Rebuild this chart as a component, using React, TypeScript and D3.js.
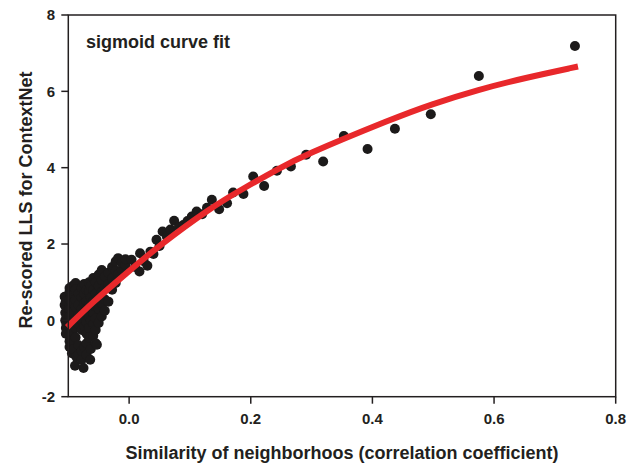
import React from "react";
import * as d3 from "d3";

// Similarity of neighborhoods (correlation coefficient) vs. re-scored LLS
const similarity: number[] = [
  // left edge of the cluster
  -0.106, -0.106, -0.105, -0.105, -0.104, -0.104, -0.104, -0.103, -0.103,
  -0.098, -0.098, -0.098, -0.098, -0.098, -0.098, -0.098, -0.098, -0.098,
  -0.093, -0.093, -0.093, -0.093, -0.093, -0.093, -0.093, -0.094, -0.092,
  -0.088, -0.088, -0.088, -0.088, -0.088, -0.088, -0.088, -0.089, -0.087,
  -0.083, -0.083, -0.083, -0.083, -0.083, -0.083,
  -0.078, -0.078, -0.078, -0.078, -0.078, -0.078, -0.078,
  -0.074, -0.074, -0.074, -0.074, -0.074, -0.075, -0.074,
  -0.070, -0.070, -0.070, -0.070, -0.070, -0.070, -0.070,
  -0.066, -0.066, -0.066, -0.066, -0.066, -0.066,
  -0.063, -0.063, -0.063, -0.063, -0.064, -0.063,
  -0.059, -0.059, -0.059, -0.059, -0.059, -0.059,
  -0.055, -0.055, -0.055, -0.055, -0.055, -0.055,
  -0.050, -0.050, -0.050, -0.050, -0.050, -0.053,
  -0.045, -0.045, -0.045, -0.045, -0.045,
  -0.040, -0.040, -0.040, -0.040,
  -0.034, -0.034, -0.034,
  -0.028, -0.028, -0.028,
  -0.022, -0.022, -0.022,
  -0.018, -0.018, -0.012, -0.012, -0.006, -0.006,
  0.004, 0.010, 0.017, 0.018, 0.024, 0.030, 0.035, 0.040, 0.045, 0.050,
  0.055, 0.062, 0.068, 0.074, 0.082, 0.089, 0.096, 0.103, 0.111, 0.120,
  0.128, 0.136, 0.148, 0.161, 0.171, 0.188, 0.204, 0.222, 0.243, 0.266,
  0.291, 0.319, 0.353, 0.392, 0.437, 0.496, 0.575, 0.733,
];

const rescoredLLS: number[] = [
  0.62, 0.40, 0.20, 0.00, -0.20, -0.35, 0.50, 0.10, -0.10,
  0.85, 0.75, 0.55, 0.30, 0.10, -0.15, -0.40, -0.55, -0.70,
  0.90, 0.65, 0.45, 0.20, -0.05, -0.30, -0.60, -0.86, -0.75,
  0.98, 0.80, 0.55, 0.35, 0.05, -0.20, -0.45, -1.19, -0.95,
  0.70, 0.40, 0.15, -0.10, -0.65, -0.90,
  0.85, 0.60, 0.30, 0.00, -0.25, -1.03, -0.80,
  0.95, 0.70, 0.45, 0.20, -0.15, -1.25, -0.70,
  0.80, 0.50, 0.25, -0.05, -0.35, -0.60, -0.90,
  1.00, 0.75, 0.40, 0.10, -0.20, -0.45,
  0.90, 0.60, 0.30, 0.00, -1.03, -0.75,
  1.11, 0.80, 0.50, 0.20, -0.10, -0.40,
  1.00, 0.70, 0.35, 0.05, -0.25, -0.60,
  1.20, 0.90, 0.60, 0.30, -0.07, -0.64,
  1.32, 1.05, 0.75, 0.45, 0.10,
  1.15, 0.85, 0.55, 0.25,
  1.25, 0.95, 0.49,
  1.40, 1.10, 0.80,
  1.30, 1.55, 0.98,
  1.63, 1.20, 1.32, 1.50, 1.45, 1.60,
  1.59, 1.40, 1.28, 1.76, 1.55, 1.43, 1.80, 1.74, 2.11, 1.95,
  2.33, 2.20, 2.38, 2.61, 2.45, 2.50, 2.60, 2.72, 2.85, 2.78,
  2.95, 3.16, 2.91, 3.07, 3.35, 3.31, 3.77, 3.52, 3.92, 4.03,
  4.34, 4.16, 4.83, 4.49, 5.02, 5.40, 6.40, 7.19,
];

// Sigmoid fit, sampled along its length
const fitX: number[] = [-0.102, -0.059, -0.004, 0.051, 0.133, 0.188, 0.248, 0.281, 0.437, 0.495, 0.575, 0.65, 0.738];
const fitY: number[] = [-0.18, 0.49, 1.24, 1.98, 2.94, 3.46, 3.99, 4.28, 5.31, 5.65, 6.05, 6.35, 6.65];

const xTicks: number[] = [0.0, 0.2, 0.4, 0.6, 0.8];
const yTicks: number[] = [-2, 0, 2, 4, 6, 8];

const W = 643;
const H = 469;
const left = 68.3;
const right = 615.7;
const top = 15;
const bottom = 396.7;

const AXIS = "#231f20";
const FONT = "'Liberation Sans', Arial, Helvetica, sans-serif";

export default function App() {
  const x = d3.scaleLinear().domain([-0.1, 0.8]).range([left, right]);
  const y = d3.scaleLinear().domain([-2, 8]).range([bottom, top]);

  const points = similarity.map((s, i) => [s, rescoredLLS[i]] as [number, number]);
  const fit = fitX.map((s, i) => [s, fitY[i]] as [number, number]);

  const line = d3
    .line<[number, number]>()
    .x((d) => x(d[0]))
    .y((d) => y(d[1]))
    .curve(d3.curveBasis);

  return (
    <svg
      width={W}
      height={H}
      style={{ position: "absolute", left: 0, top: 0, background: "#fff" }}
      fontFamily={FONT}
    >
      <rect x={0} y={0} width={W} height={H} fill="#fff" />

      {/* scatter */}
      <g fill="#1c1a1a">
        {points.map((d, i) => (
          <circle key={i} cx={x(d[0])} cy={y(d[1])} r={5} />
        ))}
      </g>

      {/* fitted curve */}
      <path d={line(fit) ?? ""} fill="none" stroke="#e8282b" strokeWidth={6} />

      {/* frame */}
      <rect
        x={left}
        y={top}
        width={right - left}
        height={bottom - top}
        fill="none"
        stroke={AXIS}
        strokeWidth={1.5}
      />

      {/* x axis ticks */}
      <g>
        {xTicks.map((t) => (
          <g key={t}>
            <line x1={x(t)} x2={x(t)} y1={bottom} y2={bottom + 7} stroke={AXIS} strokeWidth={1.5} />
            <text
              x={x(t)}
              y={424}
              textAnchor="middle"
              fontSize={15}
              fontWeight="bold"
              fill="#231f20"
            >
              {t.toFixed(1)}
            </text>
          </g>
        ))}
      </g>

      {/* y axis ticks */}
      <g>
        {yTicks.map((t) => (
          <g key={t}>
            <line x1={left - 7} x2={left} y1={y(t)} y2={y(t)} stroke={AXIS} strokeWidth={1.5} />
            <text
              x={55}
              y={y(t)}
              dy="0.36em"
              textAnchor="end"
              fontSize={15}
              fontWeight="bold"
              fill="#231f20"
            >
              {t}
            </text>
          </g>
        ))}
      </g>

      <text x={86} y={48} fontSize={18} fontWeight="bold" fill="#231f20">
        sigmoid curve fit
      </text>

      <text
        x={342}
        y={459}
        textAnchor="middle"
        fontSize={18}
        fontWeight="bold"
        fill="#231f20"
      >
        Similarity of neighborhoos (correlation coefficient)
      </text>

      <text
        transform="translate(32,200) rotate(-90)"
        textAnchor="middle"
        fontSize={18}
        fontWeight="bold"
        fill="#231f20"
      >
        Re-scored LLS for ContextNet
      </text>
    </svg>
  );
}
